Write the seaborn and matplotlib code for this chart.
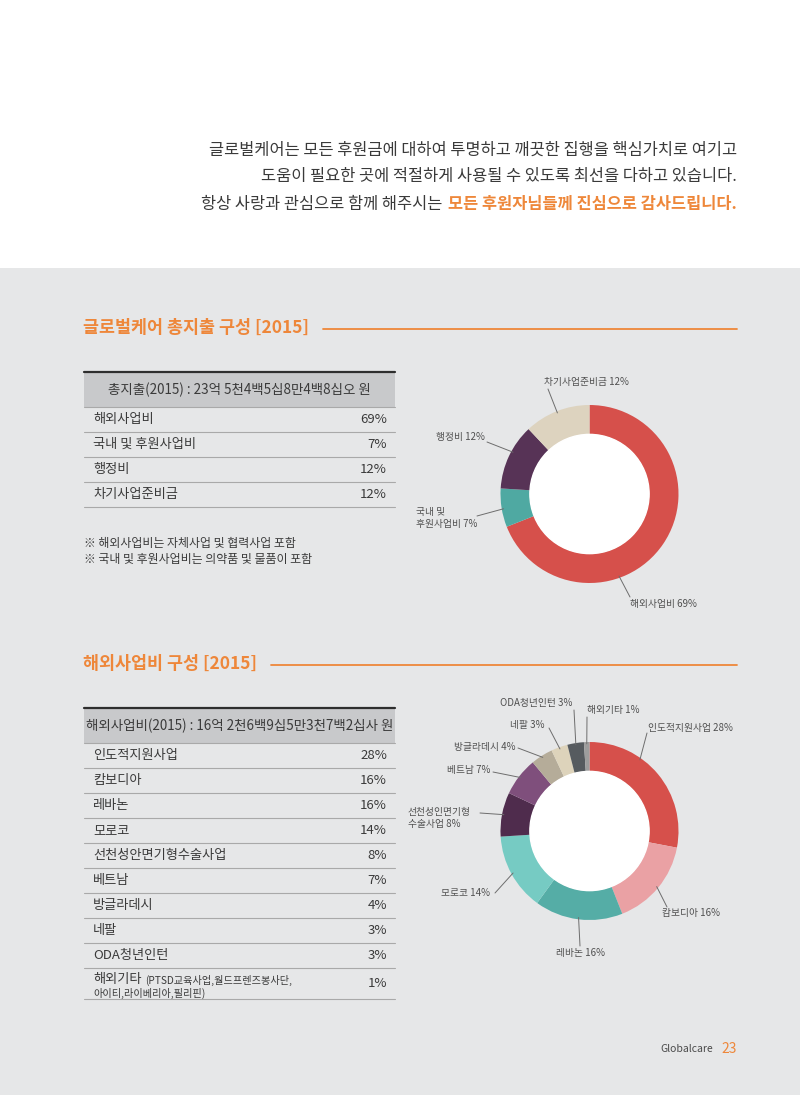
import numpy as np
import matplotlib
matplotlib.use("Agg")
import matplotlib.pyplot as plt
import seaborn as sns
from matplotlib.patches import Circle, Rectangle

sns.set_theme(style="white")
plt.rcParams['font.family'] = ['Noto Sans CJK KR', 'DejaVu Sans']

W, H = 800, 1095
ORANGE = '#ee873a'
TEXT = '#3a3a3a'
LABEL = '#505050'
BG = '#e6e7e8'

# ---- data ----
intro_lines = [
    "글로벌케어는 모든 후원금에 대하여 투명하고 깨끗한 집행을 핵심가치로 여기고",
    "도움이 필요한 곳에 적절하게 사용될 수 있도록 최선을 다하고 있습니다.",
    "항상 사랑과 관심으로 함께 해주시는",
]
intro_highlight = "모든 후원자님들께 진심으로 감사드립니다."

total_title = "글로벌케어 총지출 구성 [2015]"
total_header = "총지출(2015) : 23억 5천4백5십8만4백8십오 원"
total_items = ["해외사업비", "국내 및 후원사업비", "행정비", "차기사업준비금"]
total_pct = [69, 7, 12, 12]
total_names = ["해외사업비", "국내 및\n후원사업비", "행정비", "차기사업준비금"]
total_notes = ["※ 해외사업비는 자체사업 및 협력사업 포함",
               "※ 국내 및 후원사업비는 의약품 및 물품이 포함"]

overseas_title = "해외사업비 구성 [2015]"
overseas_header = "해외사업비(2015) : 16억 2천6백9십5만3천7백2십사 원"
overseas_items = ["인도적지원사업", "캄보디아", "레바논", "모로코", "선천성안면기형수술사업",
                  "베트남", "방글라데시", "네팔", "ODA청년인턴", "해외기타"]
overseas_pct = [28, 16, 16, 14, 8, 7, 4, 3, 3, 1]
overseas_names = ["인도적지원사업", "캄보디아", "레바논", "모로코", "선천성인면기형\n수술사업",
                  "베트남", "방글라데시", "네팔", "ODA청년인턴", "해외기타"]
overseas_note = ["(PTSD교육사업,월드프렌즈봉사단,", "아이티,라이베리아,필리핀)"]

# ---- styles / layout ----
total_colors = ['#d6504b', '#4fa9a2', '#573356', '#ddd3bf']
overseas_colors = ['#d6504b', '#eaa1a4', '#55ada6', '#76cbc3', '#4f2c4d',
                   '#7f4f7c', '#b5ac99', '#ddd3bb', '#565b5f', '#9d9d9d']

# (text x, text y, ha, line start x, line start y, anchor fraction along wedge)
total_layout = [
    (630, 604, 'left', 630, 597, 0.645),
    (416, 518, 'left', 477, 516, 0.47),
    (485, 437, 'right', 487, 442, 0.58),
    (586, 382, 'center', 548, 389, 0.5),
]
overseas_layout = [
    (648, 728, 'left', 647, 733, 0.35),
    (662, 913, 'left', 667, 907, 0.5),
    (581, 953, 'center', 580, 946, 0.5),
    (490, 893, 'right', 495, 893, 0.5),
    (408, 818, 'left', 480, 813, 0.5),
    (490, 770, 'right', 493, 772, 0.5),
    (515, 747, 'right', 518, 748, 0.5),
    (545, 725, 'right', 549, 728, 0.5),
    (572, 703, 'right', 574, 710, 0.5),
    (587, 710, 'left', 587, 717, 0.5),
]

fig = plt.figure(figsize=(W / 100, H / 100), dpi=100)
fig.patch.set_facecolor('white')
over = fig.add_axes([0, 0, 1, 1])
over.set_xlim(0, W)
over.set_ylim(H, 0)
over.axis('off')
over.set_zorder(0)
over.add_patch(Rectangle((0, 268), W, H - 268, color=BG, lw=0))
renderer = fig.canvas.get_renderer()

# ---- intro ----
for i, line in enumerate(intro_lines[:2]):
    over.text(737, 150 + 27 * i, line, ha='right', va='center', fontsize=11.8, color=TEXT)
hl = over.text(737, 204, intro_highlight, ha='right', va='center', fontsize=11.8,
               color=ORANGE, fontweight='bold')
hw = hl.get_window_extent(renderer).width
over.text(737 - hw - 6, 204, intro_lines[2], ha='right', va='center', fontsize=11.8, color=TEXT)


def section_title(y, title):
    t = over.text(83, y, title, ha='left', va='center', fontsize=12.5,
                  color=ORANGE, fontweight='bold')
    tw = t.get_window_extent(renderer).width
    over.plot([83 + tw + 14, 737], [y + 1, y + 1], color=ORANGE, lw=1.3)


def draw_table(y_top, header, names, pcts, heights):
    x0, x1 = 84, 395
    over.add_patch(Rectangle((x0, y_top), x1 - x0, 35, color='#c8c9cb', lw=0))
    over.plot([x0, x1], [y_top, y_top], color='#2e2e2e', lw=1.6)
    over.text((x0 + x1) / 2, y_top + 17.5, header, ha='center', va='center',
              fontsize=9.7, color=TEXT)
    y = y_top + 35
    over.plot([x0, x1], [y, y], color='#a9a9a9', lw=0.8)
    texts = []
    for name, p, h in zip(names, pcts, heights):
        yc = y + h / 2
        texts.append(over.text(93, yc, name, ha='left', va='center', fontsize=9.5, color=TEXT))
        over.text(387, yc, f"{p}%", ha='right', va='center', fontsize=9.5, color=TEXT)
        y += h
        over.plot([x0, x1], [y, y], color='#a9a9a9', lw=0.8)
    return texts


def donut(cx, cy, R, values, colors, names, layout):
    ax = fig.add_axes([(cx - R) / W, 1 - (cy + R) / H, 2 * R / W, 2 * R / H])
    ax.set_zorder(1)
    wedges, _ = ax.pie(values, colors=colors, startangle=90, counterclock=False,
                       wedgeprops=dict(width=0.33, edgecolor='none'))
    ax.add_patch(Circle((0, 0), 0.67, color='white', zorder=5))
    ax.set_xlim(-1, 1)
    ax.set_ylim(-1, 1)
    ax.axis('off')
    for w, name, v, (tx, ty, ha, lx, ly, frac) in zip(wedges, names, values, layout):
        ang = np.deg2rad(w.theta2 - (w.theta2 - w.theta1) * frac)
        ax.annotate('', xy=(0.98 * np.cos(ang), 0.98 * np.sin(ang)), xytext=(lx, ly),
                    textcoords=over.transData, annotation_clip=False,
                    arrowprops=dict(arrowstyle='-', color='#6d6d6d', lw=0.7,
                                    shrinkA=0, shrinkB=0))
        over.text(tx, ty, f"{name} {v}%", ha=ha, va='center', fontsize=7.0,
                  color=LABEL, linespacing=1.25)
    return ax


# ---- section 1 ----
section_title(328, total_title)
draw_table(372, total_header, total_items, total_pct, [25] * 4)
for i, note in enumerate(total_notes):
    over.text(84, 543 + 16 * i, note, ha='left', va='center', fontsize=8.6, color=TEXT)
donut(589.5, 494, 89, total_pct, total_colors, total_names, total_layout)

# ---- section 2 ----
section_title(664, overseas_title)
rows = draw_table(708, overseas_header, overseas_items, overseas_pct, [25] * 9 + [31])
last = rows[-1]
last.set_position((93, 979))
lw_ = last.get_window_extent(renderer).width
over.text(93 + lw_ + 4, 980, overseas_note[0], ha='left', va='center', fontsize=7.3, color=TEXT)
over.text(93, 993, overseas_note[1], ha='left', va='center', fontsize=7.3, color=TEXT)
donut(589.5, 831, 89, overseas_pct, overseas_colors, overseas_names, overseas_layout)

# ---- footer ----
over.text(713, 1049, "Globalcare", ha='right', va='center', fontsize=7.5, color='#4a4a4a')
over.text(721, 1049, "23", ha='left', va='center', fontsize=10, color=ORANGE)

fig.savefig("out.png", dpi=100, facecolor=fig.get_facecolor())
